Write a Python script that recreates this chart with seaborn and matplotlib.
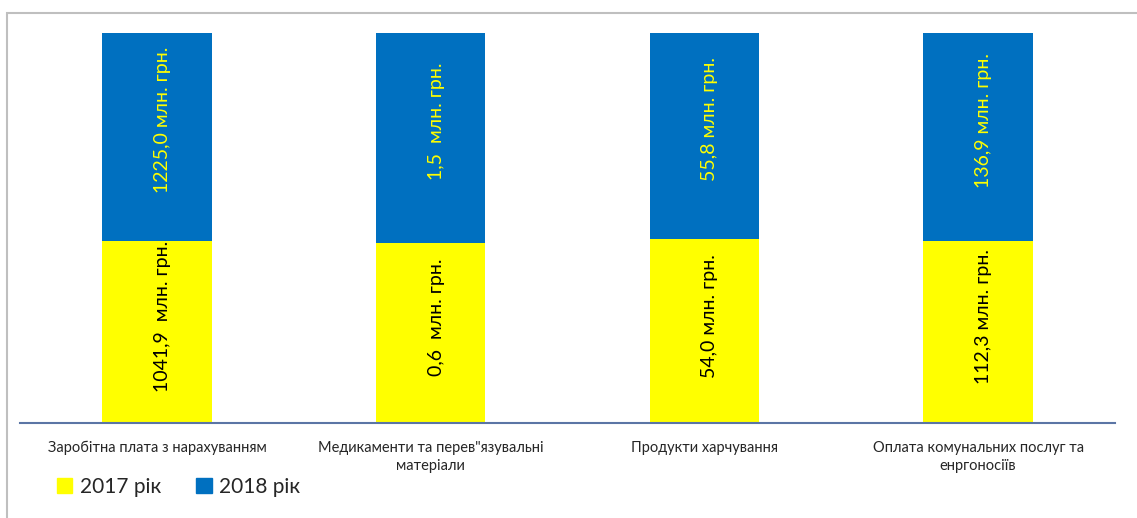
import pandas as pd
import seaborn as sns
from matplotlib import pyplot as plt
from matplotlib.patches import Rectangle, Patch

# categories on the x axis
categories = ["Заробітна плата з нарахуванням",
              "Медикаменти та перев\"язувальні\nматеріали",
              "Продукти харчування",
              "Оплата комунальних послуг та\nенргоносіїв"]

# share of each year in the bar (%)
share_2017 = [46.7, 46.2, 47.2, 46.7]
share_2018 = [53.3, 53.8, 52.8, 53.3]

# texts written inside the segments
labels_2017 = ["1041,9  млн. грн.", "0,6  млн. грн.", "54,0 млн. грн.", "112,3 млн. грн."]
labels_2018 = ["1225,0 млн. грн.", "1,5  млн. грн.", "55,8 млн. грн.", "136,9 млн. грн."]

series_names = ["2017 рік", "2018 рік"]

yellow = "#FFFF00"
blue = "#0070C0"

sns.set_style("white")
plt.rcParams['font.family'] = ['Lato', 'DejaVu Sans']

df = pd.DataFrame({
    "cat": categories,
    "y2017": share_2017,
    "top": [a + b for a, b in zip(share_2017, share_2018)],
})

fig = plt.figure(figsize=(11.37, 5.18), dpi=100)
ax = fig.add_axes([20 / 1137, 95 / 518, 1095 / 1137, 390 / 518])

# frame round the chart
fig.patches.append(Rectangle((7 / 1137, -0.1), 1.2, (518 - 13) / 518 + 0.1,
                             transform=fig.transFigure, fill=False,
                             edgecolor="#BFBFBF", linewidth=1.5))

# blue drawn up to the total, yellow over it
sns.barplot(data=df, x="cat", y="top", color=blue, saturation=1, width=0.4, ax=ax)
sns.barplot(data=df, x="cat", y="y2017", color=yellow, saturation=1, width=0.4, ax=ax)

blue_bars = ax.containers[0]
yellow_bars = ax.containers[1]
for bar in list(blue_bars) + list(yellow_bars):
    bar.set_linewidth(0)

# labels sit a little above the middle of each segment, as in the original
for bar, y0, txt in zip(blue_bars, share_2017, labels_2018):
    cx = bar.get_x() + bar.get_width() / 2
    cy = (y0 + bar.get_height()) / 2
    ax.annotate(txt, (cx, cy), xytext=(4, 12), textcoords="offset points",
                rotation=90, ha="center", va="center",
                color=yellow, fontsize=14)

for bar, txt in zip(yellow_bars, labels_2017):
    cx = bar.get_x() + bar.get_width() / 2
    cy = bar.get_height() / 2
    ax.annotate(txt, (cx, cy), xytext=(4, 11), textcoords="offset points",
                rotation=90, ha="center", va="center",
                color="black", fontsize=14)

ax.set_ylim(0, 100)
ax.set_xlim(-0.5, 3.5)
ax.set_xlabel("")
ax.set_ylabel("")
ax.set_yticks([])
ax.tick_params(axis="x", length=0, pad=13, labelsize=10.5)
for t in ax.get_xticklabels():
    t.set_ha("center")
    t.set_multialignment("center")
    t.set_va("top")
    t.set_linespacing(1.4)

for s in ["top", "left", "right"]:
    ax.spines[s].set_visible(False)
ax.spines["bottom"].set_color("#5B75A5")
ax.spines["bottom"].set_linewidth(1.5)

handles = [Patch(color=yellow), Patch(color=blue)]
fig.legend(handles, series_names, loc="center left",
           bbox_to_anchor=(38 / 1137, 1 - 487 / 518), ncol=2, frameon=False,
           fontsize=15, handlelength=0.75, handleheight=0.75,
           handletextpad=0.35, columnspacing=1.7)

fig.savefig("out.png", dpi=100)
